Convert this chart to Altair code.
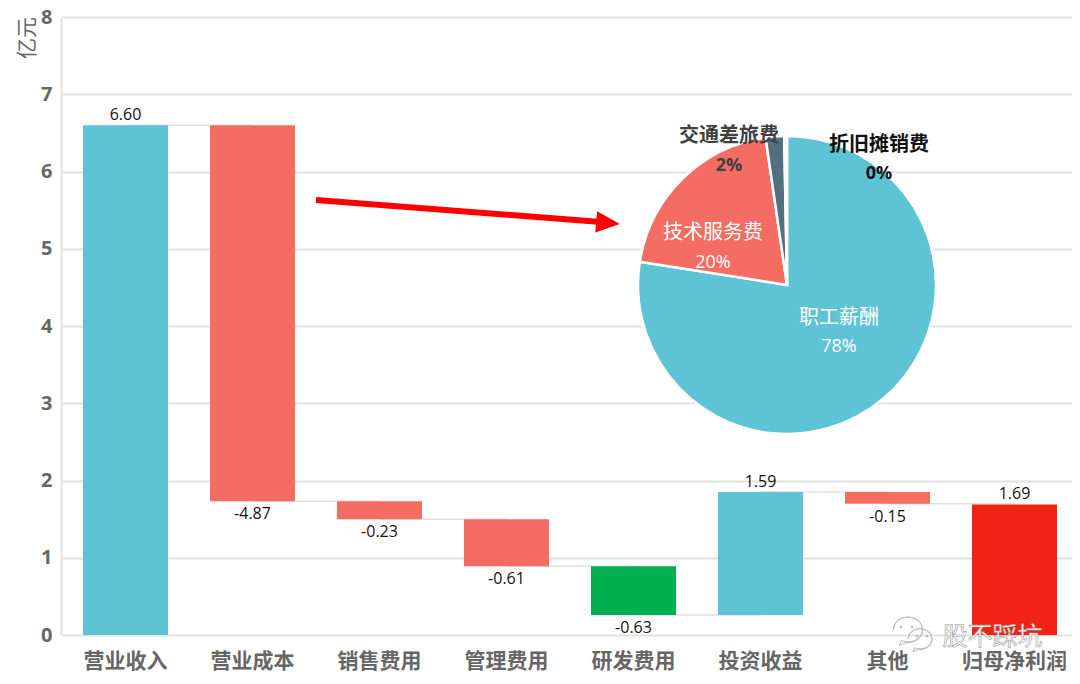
import altair as alt
import pandas as pd

CJK = "Noto Sans CJK SC"

categories = ["营业收入", "营业成本", "销售费用", "管理费用", "研发费用", "投资收益", "其他", "归母净利润"]
bar_low = [0, 1.73, 1.50, 0.89, 0.26, 0.26, 1.70, 0]
bar_high = [6.60, 6.60, 1.73, 1.50, 0.89, 1.85, 1.85, 1.69]
bar_labels = ["6.60", "-4.87", "-0.23", "-0.61", "-0.63", "1.59", "-0.15", "1.69"]
bar_colors = ["#5FC3D6", "#F56C63", "#F56C63", "#F56C63", "#00B050", "#5FC3D6", "#F56C63", "#F22314"]
link_levels = [6.60, 1.73, 1.50, 0.89, 0.26, 1.85, 1.70]

pie_names = ["职工薪酬", "技术服务费", "交通差旅费", "折旧摊销费"]
pie_values = [77.5, 20.2, 2.0, 0.3]
pie_colors = ["#5FC3D6", "#F56C63", "#536F80", "#F2A65A"]

bars = pd.DataFrame({
    "cat": categories,
    "low": bar_low,
    "high": bar_high,
    "label": bar_labels,
    "color": bar_colors,
})
bars["above"] = ~bars["label"].str.startswith("-")

links = pd.DataFrame({"cat": categories[:-1], "next": categories[1:], "level": link_levels})
pie = pd.DataFrame({"name": pie_names, "value": pie_values, "color": pie_colors, "idx": [0, 1, 2, 3]})

x = alt.X(
    "cat:N",
    sort=categories,
    title=None,
    scale=alt.Scale(paddingInner=0, paddingOuter=0, domain=categories, range=[1, 1017]),
    axis=alt.Axis(
        labelAngle=0,
        labelFont=CJK,
        labelFontSize=21,
        labelFontWeight="bold",
        labelColor="#666666",
        labelPadding=15,
        ticks=False,
        domain=False,
        grid=False,
    ),
)


def y(field):
    return alt.Y(
        field,
        title=None,
        scale=alt.Scale(domain=[0, 8], nice=False),
        axis=alt.Axis(
            values=[0, 1, 2, 3, 4, 5, 6, 7, 8],
            format="d",
            labelFont="Open Sans",
            labelFontSize=20,
            labelFontWeight="bold",
            labelColor="#666666",
            labelPadding=9,
            ticks=False,
            domainColor="#e2e2e2",
            domainWidth=2,
            gridColor="#e2e2e2",
            gridWidth=2,
        ),
    )


link_layer = alt.Chart(links).mark_rule(color="#e2e2e2", strokeWidth=1.5).encode(
    x=x, x2="next:N", y=y("level:Q")
)
bar_layer = alt.Chart(bars).mark_bar(size=85).encode(
    x=x, y=y("low:Q"), y2="high:Q", color=alt.Color("color:N", scale=None)
)
top_labels = alt.Chart(bars[bars["above"]]).mark_text(
    baseline="bottom", dy=-2, font="Open Sans", fontSize=16, color="#111111"
).encode(x=x, y=y("high:Q"), text="label:N")
low_labels = alt.Chart(bars[~bars["above"]]).mark_text(
    baseline="top", dy=5, font="Open Sans", fontSize=16, color="#111111"
).encode(x=x, y=y("low:Q"), text="label:N")

pie_layer = alt.Chart(pie).mark_arc(outerRadius=149, stroke="white", strokeWidth=2.5).encode(
    theta=alt.Theta("value:Q", stack=True, scale=alt.Scale(range=[0, 6.2832])),
    order=alt.Order("idx:Q"),
    color=alt.Color("color:N", scale=None),
    x=alt.value(726),
    y=alt.value(268),
)

one = pd.DataFrame({"n": [0]})


def note(text, px, py, size=20, color="#ffffff", font=CJK, weight="normal", **kw):
    return alt.Chart(one).mark_text(
        text=text, font=font, fontSize=size, fontWeight=weight, color=color, **kw
    ).encode(x=alt.value(px), y=alt.value(py))


pie_notes = [
    note(pie_names[0], 778, 301),
    note("78%", 778, 330, size=18, font="Open Sans"),
    note(pie_names[1], 652, 216),
    note("20%", 652, 246, size=18, font="Open Sans"),
    note(pie_names[2], 668, 119, color="#404040", weight="bold"),
    note("2%", 668, 149, size=18, color="#404040", font="Open Sans", weight="bold"),
    note(pie_names[3], 818, 128, color="#111111", weight="bold"),
    note("0%", 818, 157, size=18, color="#111111", font="Open Sans", weight="bold"),
]

arrow_line = alt.Chart(one).mark_rule(color="#FF0000", strokeWidth=6).encode(
    x=alt.value(255), x2=alt.value(540), y=alt.value(183), y2=alt.value(205)
)
arrow_head = alt.Chart(one).mark_point(
    shape="M -1 -0.9 L 1 0 L -1 0.9 Z", filled=True, color="#FF0000", size=560, angle=5, opacity=1
).encode(x=alt.value(547), y=alt.value(206))

unit = note("亿元", -33, 21, size=21, color="#666666", angle=270)

bubble = "M -1 -0.1 A 1 0.85 0 1 1 -0.45 0.65 L -0.6 1 L -0.15 0.8 A 1 0.85 0 0 0 1 -0.1 A 1 0.85 0 0 0 -1 -0.1 Z"


def wechat_bubble(px, py, size):
    return alt.Chart(one).mark_point(
        shape=bubble, filled=True, fill="#ffffff", stroke="#bbbbbb", strokeWidth=1, size=size, opacity=1
    ).encode(x=alt.value(px), y=alt.value(py))


def wechat_eye(px, py):
    return alt.Chart(one).mark_point(
        shape="circle", filled=True, color="#bbbbbb", size=7, opacity=1
    ).encode(x=alt.value(px), y=alt.value(py))


wechat = [
    wechat_bubble(847, 614, 840),
    wechat_eye(840, 610),
    wechat_eye(851, 610),
    wechat_bubble(859, 623, 560),
    wechat_eye(856, 619),
    wechat_eye(866, 619),
]
wechat_name = alt.Chart(one).mark_text(
    text="股不踩坑", font=CJK, fontSize=25, fill="#ffffff", stroke="#9a9a9a", strokeWidth=0.6
).encode(x=alt.value(931.5), y=alt.value(620))

chart = alt.layer(
    link_layer,
    bar_layer,
    top_labels,
    low_labels,
    arrow_line,
    arrow_head,
    pie_layer,
    *pie_notes,
    unit,
    *wechat,
    wechat_name,
).properties(
    width=1011,
    height=618,
    autosize=alt.AutoSizeParams(type="none"),
    padding={"left": 53, "top": 9, "right": 0, "bottom": 41},
).configure_view(strokeWidth=0)

chart.save("out.html", embed_options={"renderer": "svg", "actions": False})
